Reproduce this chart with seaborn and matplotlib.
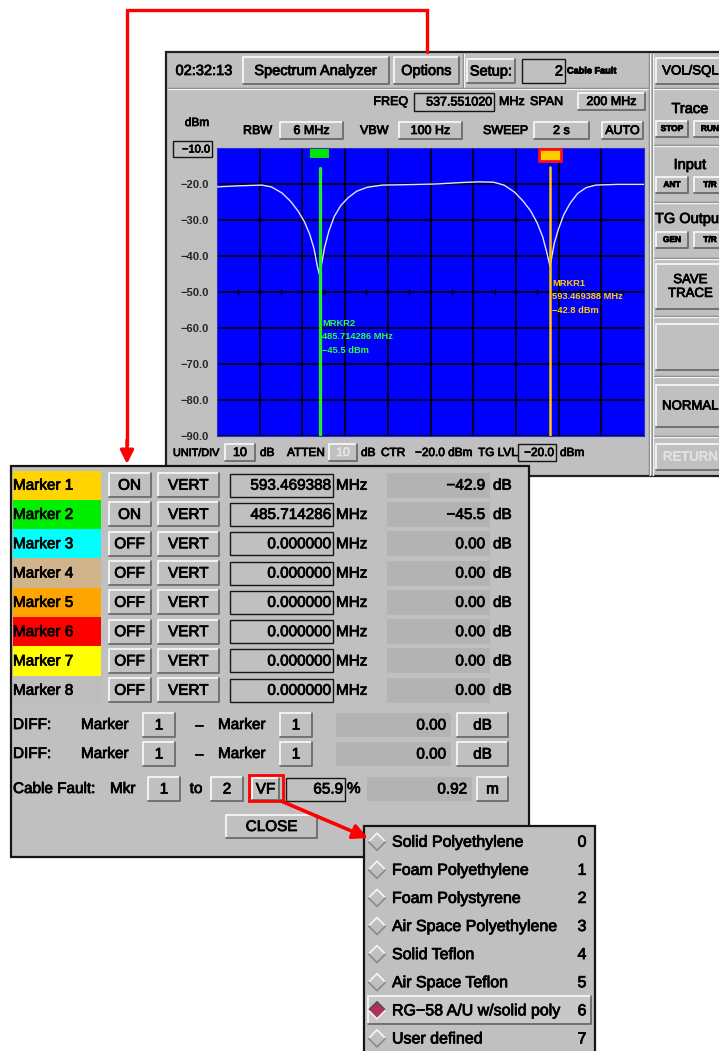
#!/usr/bin/env python3
# -*- coding: utf-8 -*-
"""
Spectrum analyzer screen with marker dialog and cable-fault dielectric menu.
Redrawn with matplotlib/seaborn as a static figure.
"""

import matplotlib
matplotlib.use('Agg')
import matplotlib.pyplot as plt
import matplotlib.patheffects as pe
from matplotlib.patches import Rectangle, Polygon
import seaborn as sns

# ---------------------------------------------------------------------------
# Data read from the screen
# ---------------------------------------------------------------------------
center_freq = 537.551020   # MHz
span = 200.0               # MHz
ref_level = -10.0          # dBm
bottom_level = -90.0       # dBm

trace_freq = [437.55, 448.0, 458.6, 463.0, 468.0, 472.0, 475.5, 478.5, 481.0,
              483.0, 484.6, 485.7, 486.6, 488.0, 490.0, 492.5, 495.5, 499.0,
              503.0, 508.0, 515.0, 525.0, 540.0, 552.0, 560.0, 567.0, 572.0,
              577.0, 581.0, 584.5, 587.5, 590.0, 591.8, 593.0, 593.5, 594.3,
              595.5, 597.5, 600.0, 603.0, 606.5, 610.5, 615.0, 625.0, 637.55]
trace_dbm = [-20.8, -20.5, -20.3, -20.8, -22.5, -24.8, -27.5, -30.5, -34.0,
             -38.0, -43.0, -45.5, -42.0, -37.5, -33.0, -29.0, -26.0, -23.8,
             -22.0, -20.9, -20.3, -20.2, -20.0, -19.6, -19.4, -19.5, -20.3,
             -22.3, -24.8, -27.5, -30.8, -34.5, -38.5, -41.5, -42.8, -40.5,
             -36.5, -32.5, -28.5, -25.3, -22.6, -21.0, -20.3, -20.1, -20.1]

marker_names = ['Marker 1', 'Marker 2', 'Marker 3', 'Marker 4',
                'Marker 5', 'Marker 6', 'Marker 7', 'Marker 8']
marker_colors = ['#ffd400', '#00ee00', '#00ffff', '#d2b48c',
                 '#ffa500', '#ff0000', '#ffff00', '#bebebe']
marker_state = ['ON', 'ON', 'OFF', 'OFF', 'OFF', 'OFF', 'OFF', 'OFF']
marker_freq = [593.469388, 485.714286, 0.0, 0.0, 0.0, 0.0, 0.0, 0.0]
marker_amp = [-42.9, -45.5, 0.0, 0.0, 0.0, 0.0, 0.0, 0.0]
screen_marker_dbm = [-42.8, -45.5]     # readout printed on the trace

diff_values = [0.00, 0.00]
velocity_factor = 65.9
fault_distance = 0.92

dielectrics = ['Solid Polyethylene', 'Foam Polyethylene', 'Foam Polystyrene',
               'Air Space Polyethylene', 'Solid Teflon', 'Air Space Teflon',
               'RG\u221258 A/U w/solid poly', 'User defined']
selected_dielectric = 6

GRAY = '#c0c0c0'
FIELD = '#b3b3b3'
MINUS = '\u2212'


def fmt(v, nd):
    """Format with a real minus sign."""
    return f'{v:.{nd}f}'.replace('-', MINUS)


def label(ax, x, y, s, size=11, ha='left', color='black', weight='normal',
          zorder=3):
    # a thin stroke makes the regular face look like the heavier X11 font
    ax.text(x, y, s, fontsize=size, ha=ha, va='center', color=color,
            fontweight=weight, zorder=zorder,
            path_effects=[pe.withStroke(linewidth=0.55, foreground=color)])


def button(ax, x0, y0, x1, y1, text='', size=11, color='black',
           weight='normal', raised=True):
    ax.add_patch(Rectangle((x0, y0), x1 - x0, y1 - y0, facecolor=GRAY,
                           edgecolor='none'))
    hi, lo = ('#f6f6f6', '#6a6a6a') if raised else ('#6a6a6a', '#f6f6f6')
    ax.plot([x0, x0, x1], [y1, y0, y0], color=hi, lw=1.3)
    ax.plot([x0, x1, x1], [y1, y1, y0], color=lo, lw=1.3)
    if text:
        label(ax, (x0 + x1) / 2, (y0 + y1) / 2 + 0.5, text, size=size,
              ha='center', color=color, weight=weight)


def field(ax, x0, y0, x1, y1, text='', size=11):
    ax.add_patch(Rectangle((x0, y0), x1 - x0, y1 - y0, facecolor=GRAY,
                           edgecolor='#151515', lw=1.0))
    if text:
        label(ax, x1 - 2, (y0 + y1) / 2 + 0.5, text, size=size, ha='right')


def flat(ax, x0, y0, x1, y1, text='', size=11):
    ax.add_patch(Rectangle((x0, y0), x1 - x0, y1 - y0, facecolor=FIELD,
                           edgecolor='none'))
    if text:
        label(ax, x1 - 5, (y0 + y1) / 2 + 0.5, text, size=size, ha='right')


def groove_h(ax, x0, x1, y):
    ax.plot([x0, x1], [y, y], color='#7a7a7a', lw=1.0)
    ax.plot([x0, x1], [y + 1.2, y + 1.2], color='#f4f4f4', lw=1.0)


def groove_v(ax, x, y0, y1):
    ax.plot([x, x], [y0, y1], color='#7a7a7a', lw=1.0)
    ax.plot([x + 1.2, x + 1.2], [y0, y1], color='#f4f4f4', lw=1.0)


def draw_analyzer_window(ui):
    """Main spectrum analyzer window (everything except the trace axes)."""
    ui.add_patch(Rectangle((166, 52), 600, 424, facecolor=GRAY,
                           edgecolor='#202020', lw=1.6))

    # top bar
    label(ui, 204, 71, '02:32:13', size=10.5, ha='center')
    button(ui, 243, 57, 389, 84, 'Spectrum Analyzer', size=10.5)
    button(ui, 394, 57, 459, 84, 'Options', size=10.5)
    groove_v(ui, 463, 54, 87)
    button(ui, 467, 59, 515, 83, 'Setup:', size=10.5)
    field(ui, 522, 59, 565, 83, '2', size=10.5)
    label(ui, 567, 71, 'Cable Fault', size=6.6, weight='bold')
    groove_h(ui, 168, 649, 88)

    # settings rows
    label(ui, 408, 102, 'FREQ', size=9, ha='right')
    field(ui, 414, 93, 494, 111, '537.551020', size=9)
    label(ui, 499, 102, 'MHz', size=9)
    label(ui, 530, 102, 'SPAN', size=9)
    button(ui, 578, 93, 645, 110, '200 MHz', size=9)

    label(ui, 197, 123, 'dBm', size=8.5, ha='center')
    label(ui, 243, 131, 'RBW', size=9)
    button(ui, 280, 122, 343, 139, '6 MHz', size=9)
    label(ui, 360, 131, 'VBW', size=9)
    button(ui, 399, 122, 462, 139, '100 Hz', size=9)
    label(ui, 483, 131, 'SWEEP', size=9)
    button(ui, 534, 122, 589, 139, '2 s', size=9)
    button(ui, 602, 122, 643, 139, 'AUTO', size=9)
    field(ui, 173, 141, 212, 157, fmt(ref_level, 1), size=8)

    # bottom row
    label(ui, 173, 453, 'UNIT/DIV', size=7.8)
    button(ui, 225, 444, 255, 461, '10', size=9)
    label(ui, 260, 453, 'dB', size=8.5)
    label(ui, 287, 453, 'ATTEN', size=8.5)
    button(ui, 329, 444, 357, 461, '10', size=9, color='#e4e4e4')
    label(ui, 361, 453, 'dB', size=8.5)
    label(ui, 381, 453, 'CTR', size=8.5)
    label(ui, 415, 453, MINUS + '20.0 dBm', size=8.5)
    label(ui, 478, 453, 'TG LVL', size=8.5)
    field(ui, 518, 444, 556, 461, MINUS + '20.0', size=8.5)
    label(ui, 560, 453, 'dBm', size=8.5)

    # right-hand soft key column
    groove_v(ui, 649, 54, 475)
    groove_v(ui, 652, 54, 475)
    button(ui, 656, 58, 725, 84, 'VOL/SQL', size=9.5)
    for yy in [88, 145, 202, 258, 316, 376, 436]:
        groove_h(ui, 654, 719, yy)
    label(ui, 690, 109, 'Trace', size=10.5, ha='center')
    button(ui, 656, 121, 688, 137, 'STOP', size=6, weight='bold')
    button(ui, 694, 121, 726, 137, 'RUN', size=6, weight='bold')
    label(ui, 690, 165, 'Input', size=10.5, ha='center')
    button(ui, 656, 177, 688, 193, 'ANT', size=6, weight='bold')
    button(ui, 694, 177, 726, 193, 'T/R', size=6, weight='bold')
    label(ui, 655, 219, 'TG Output', size=10.5)
    button(ui, 656, 232, 688, 248, 'GEN', size=6, weight='bold')
    button(ui, 694, 232, 726, 248, 'T/R', size=6, weight='bold')
    button(ui, 656, 264, 725, 309, 'SAVE\nTRACE', size=9.5)
    button(ui, 656, 324, 725, 370, '', size=9.5)
    button(ui, 656, 385, 725, 427, 'NORMAL', size=9.5)
    button(ui, 656, 444, 725, 470, 'RETURN', size=9.5, color='#e2e2e2')


def draw_spectrum(fig):
    """Blue trace display, drawn in real frequency / dBm units."""
    ax = fig.add_axes([217 / 719, 1 - 436 / 1051, 427 / 719, 288 / 1051])
    ax.set_facecolor('#0000ff')
    f0, f1 = center_freq - span / 2, center_freq + span / 2
    ax.set_xlim(f0, f1)
    ax.set_ylim(bottom_level, ref_level)

    xt = [f0 + span / 10 * k for k in range(1, 10)]
    ax.set_xticks(xt)
    ax.set_xticklabels([])
    yt = list(range(int(bottom_level), int(ref_level), 10))
    ax.set_yticks(yt)
    ax.set_yticklabels([fmt(v, 1) for v in yt], fontsize=8, fontweight='bold')
    ax.tick_params(length=0, pad=6)
    ax.grid(True, color='black', lw=1.2)
    ax.set_axisbelow(True)
    for s in ax.spines.values():
        s.set_color('#3030c0')
        s.set_linewidth(0.8)

    # small ticks on the centre graticule line
    mid = [f0 + span / 20 * (2 * k + 1) for k in range(10)]
    ax.plot(mid, [-50] * len(mid), ls='none', marker='|', ms=5,
            mew=1.0, color='black')

    sns.lineplot(x=trace_freq, y=trace_dbm, ax=ax, color='#e4e4ff', lw=1.0,
                 zorder=3)

    # marker 2 (green) and marker 1 (yellow, active, red frame)
    ax.axvline(marker_freq[1], ymin=0, ymax=0.93, color='#22ee22', lw=2.3,
               zorder=4)
    ax.add_patch(Rectangle((marker_freq[1] - 4.4, -12.9), 8.8, 2.6,
                           facecolor='#00e600', edgecolor='none', zorder=5))
    ax.axvline(marker_freq[0], ymin=0, ymax=0.935, color='#ffc800', lw=1.8,
               zorder=4)
    ax.add_patch(Rectangle((marker_freq[0] - 5.2, -13.6), 10.4, 3.45,
                           facecolor='#ffcc00', edgecolor='#ff1010', lw=2.0,
                           zorder=5))

    lines2 = ['MRKR2', f'{marker_freq[1]:.6f} MHz',
              fmt(screen_marker_dbm[1], 1) + ' dBm']
    for i, s in enumerate(lines2):
        ax.text(marker_freq[1] + 1.0, -58.7 - 3.75 * i, s, fontsize=6.7,
                fontweight='bold', color='#33ff33', va='center', zorder=6)
    lines1 = ['MRKR1', f'{marker_freq[0]:.6f} MHz',
              fmt(screen_marker_dbm[0], 1) + ' dBm']
    for i, s in enumerate(lines1):
        ax.text(marker_freq[0] + 1.0, -47.6 - 3.75 * i, s, fontsize=6.7,
                fontweight='bold', color='#ffd000', va='center', zorder=6)
    ax.set_xlabel('')
    ax.set_ylabel('')
    return ax


def draw_marker_dialog(ui):
    """Marker table and cable fault controls."""
    ui.add_patch(Rectangle((11, 466), 518, 391, facecolor=GRAY,
                           edgecolor='#151515', lw=1.6))
    row_h = 29.3
    for i, name in enumerate(marker_names):
        top = 470.5 + row_h * i
        cy = top + row_h / 2
        ui.add_patch(Rectangle((12.5, top), 88, row_h,
                               facecolor=marker_colors[i], edgecolor='none'))
        label(ui, 13, cy + 0.5, name, size=11)
        button(ui, 108.5, cy - 12, 150.5, cy + 12, marker_state[i], size=11)
        button(ui, 157.5, cy - 12, 219, cy + 12, 'VERT', size=11)
        field(ui, 230, cy - 11.5, 333, cy + 11.5, f'{marker_freq[i]:.6f}',
              size=11)
        label(ui, 336, cy + 0.5, 'MHz', size=11)
        nd = 1 if marker_state[i] == 'ON' else 2
        flat(ui, 387, cy - 12.5, 490, cy + 12.5, fmt(marker_amp[i], nd),
             size=11)
        label(ui, 493, cy + 0.5, 'dB', size=11)

    for j, cy in enumerate([725, 754]):
        label(ui, 13, cy, 'DIFF:', size=11)
        label(ui, 81, cy, 'Marker', size=11)
        button(ui, 143, cy - 12, 175, cy + 12, '1', size=11)
        label(ui, 199, cy, '\u2013', size=11, ha='center')
        label(ui, 218, cy, 'Marker', size=11)
        button(ui, 280, cy - 12, 312, cy + 12, '1', size=11)
        flat(ui, 336, cy - 12, 451, cy + 12, fmt(diff_values[j], 2), size=11)
        button(ui, 457, cy - 12, 508, cy + 12, 'dB', size=11)

    cy = 789
    label(ui, 13, cy, 'Cable Fault:', size=11)
    label(ui, 110, cy, 'Mkr', size=11)
    button(ui, 148, cy - 12, 180, cy + 12, '1', size=11)
    label(ui, 196, cy, 'to', size=11, ha='center')
    button(ui, 211, cy - 12, 243, cy + 12, '2', size=11)
    button(ui, 252, cy - 11, 279, cy + 11, 'VF', size=11)
    ui.add_patch(Rectangle((249, 775), 34, 26, facecolor='none',
                           edgecolor='#ff0000', lw=2.0, zorder=5))
    field(ui, 286, cy - 11.5, 345, cy + 11.5, fmt(velocity_factor, 1),
          size=11)
    label(ui, 347, cy, '%', size=11)
    flat(ui, 367, cy - 12, 472, cy + 12, fmt(fault_distance, 2), size=11)
    button(ui, 477, cy - 12, 508, cy + 12, 'm', size=11)
    button(ui, 226, 815, 317, 838, 'CLOSE', size=11)


def draw_dielectric_menu(ui):
    """Pop-up list of cable dielectric types."""
    ui.add_patch(Rectangle((363.5, 825.5), 231, 240, facecolor=GRAY,
                           edgecolor='#151515', lw=1.6, zorder=6))
    step = 28.1
    for i, name in enumerate(dielectrics):
        cy = 841.7 + step * i
        if i == selected_dielectric:
            ui.add_patch(Rectangle((367.5, cy - 14), 223, 27.5,
                                   facecolor='#c8c8c8', edgecolor='none',
                                   zorder=6))
            ui.plot([367.5, 367.5, 590.5], [cy + 13.5, cy - 14, cy - 14],
                    color='#f6f6f6', lw=1.3, zorder=6)
            ui.plot([367.5, 590.5, 590.5], [cy + 13.5, cy + 13.5, cy - 14],
                    color='#6a6a6a', lw=1.3, zorder=6)
        dx, dy, h = 377, cy, 8.5
        if i == selected_dielectric:
            ui.add_patch(Polygon([(dx - h, dy), (dx, dy - h), (dx + h, dy),
                                  (dx, dy + h)], closed=True,
                                 facecolor='#b0305a', edgecolor='none',
                                 zorder=7))
            ui.plot([dx - h, dx, dx + h], [dy, dy - h, dy], color='#505050',
                    lw=1.2, zorder=7)
            ui.plot([dx - h, dx, dx + h], [dy, dy + h, dy], color='#f0f0f0',
                    lw=1.2, zorder=7)
        else:
            ui.plot([dx - h, dx, dx + h], [dy, dy - h, dy], color='#f6f6f6',
                    lw=1.2, zorder=7)
            ui.plot([dx - h, dx, dx + h], [dy, dy + h, dy], color='#8a8a8a',
                    lw=1.2, zorder=7)
        label(ui, 392, cy + 0.5, name, size=11.5, zorder=8)
        label(ui, 582, cy + 0.5, str(i), size=11.5, ha='center', zorder=8)


def draw_callouts(ui):
    """Red arrows linking Options -> marker dialog and VF -> menu."""
    red = '#ff0000'
    ui.plot([427, 427, 127, 127], [52, 10, 10, 445], color=red, lw=2.4,
            solid_joinstyle='miter', zorder=9)
    ui.annotate('', xy=(127, 464), xytext=(127, 440),
                arrowprops=dict(arrowstyle='-|>', color=red, lw=2.4,
                                mutation_scale=20, shrinkA=0, shrinkB=0),
                zorder=9)
    ui.annotate('', xy=(368, 838), xytext=(281, 801),
                arrowprops=dict(arrowstyle='-|>', color=red, lw=2.6,
                                mutation_scale=22, shrinkA=0, shrinkB=0),
                zorder=9)


def main():
    sns.set_style('white')
    plt.rcParams['font.family'] = ['Liberation Sans', 'DejaVu Sans']

    fig = plt.figure(figsize=(7.19, 10.51), dpi=100)
    fig.patch.set_facecolor('white')
    ui = fig.add_axes([0, 0, 1, 1])
    ui.set_xlim(0, 719)
    ui.set_ylim(1051, 0)
    ui.axis('off')

    draw_analyzer_window(ui)
    draw_marker_dialog(ui)
    draw_dielectric_menu(ui)
    draw_callouts(ui)
    draw_spectrum(fig)

    fig.savefig('out.png', dpi=100, facecolor='white')
    plt.close(fig)


if __name__ == '__main__':
    main()
